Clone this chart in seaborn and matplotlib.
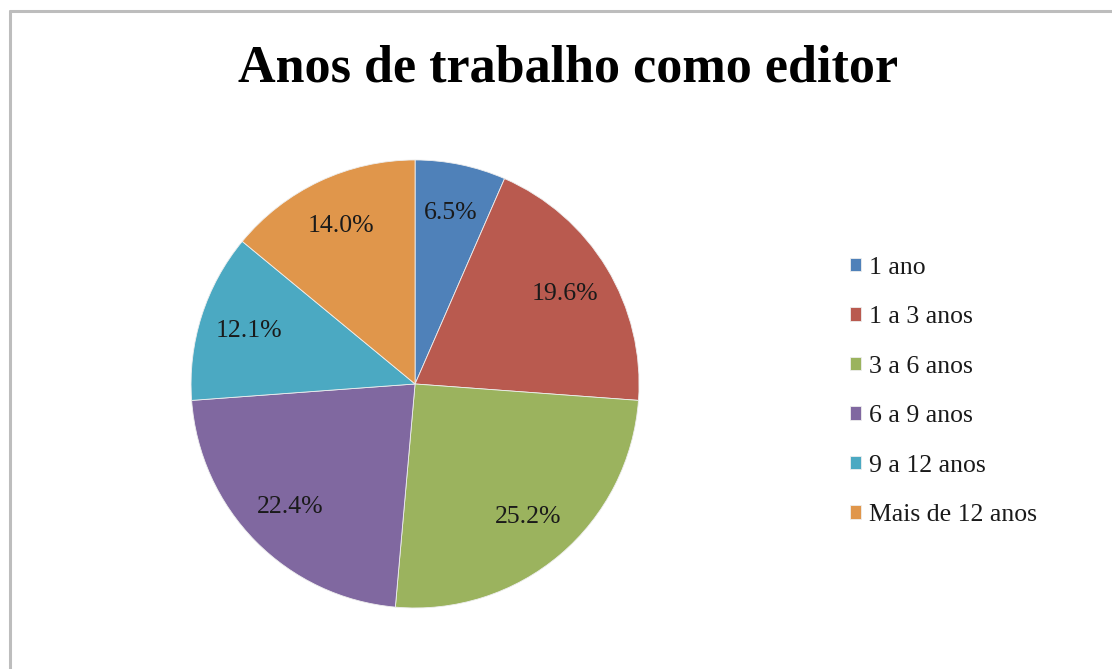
import matplotlib
matplotlib.use("Agg")
import matplotlib.pyplot as plt
import seaborn as sns
from matplotlib.lines import Line2D

# data (respondents per group, 107 total)
categories = ["1 ano", "1 a 3 anos", "3 a 6 anos", "6 a 9 anos", "9 a 12 anos", "Mais de 12 anos"]
counts = [7, 21, 27, 24, 13, 15]
slice_colors = ["#4f81b9", "#b95a4f", "#9bb35e", "#8068a0", "#4ba9c2", "#e0964b"]

sns.set_theme(style="white")
plt.rcParams["font.family"] = ["Liberation Serif", "DejaVu Serif"]

fig = plt.figure(figsize=(11.12, 6.69), dpi=100)
ax = fig.add_axes([0.1718, 0.0912, 0.4029, 0.6697])

wedges, texts, autotexts = ax.pie(
    counts,
    colors=sns.color_palette(slice_colors),
    startangle=90,
    counterclock=False,
    autopct="%.1f%%",
    pctdistance=0.78,
    wedgeprops=dict(edgecolor="#eeeeee", linewidth=0.6),
    textprops=dict(fontsize=18.5, color="#1a1a1a"),
)
ax.set_xlim(-1, 1)
ax.set_ylim(-1, 1)
ax.set_aspect("equal")

fig.text(0.511, 0.898, "Anos de trabalho como editor", ha="center", va="center",
         fontsize=37.5, fontweight="bold", color="black")

fig.legend(wedges, categories, loc="center left", bbox_to_anchor=(0.744, 0.415),
           frameon=False, fontsize=18.5, handlelength=0.42, handleheight=0.42,
           handletextpad=0.3, labelspacing=1.07, labelcolor="#1a1a1a")

# grey chart frame (left and top edges visible)
fig.add_artist(Line2D([10 / 1112, 10 / 1112], [0, 1 - 11 / 669], transform=fig.transFigure,
                      color="#bdbdbd", linewidth=2.2))
fig.add_artist(Line2D([10 / 1112, 1], [1 - 11 / 669, 1 - 11 / 669], transform=fig.transFigure,
                      color="#bdbdbd", linewidth=2.2))

fig.savefig("out.png", dpi=100)
